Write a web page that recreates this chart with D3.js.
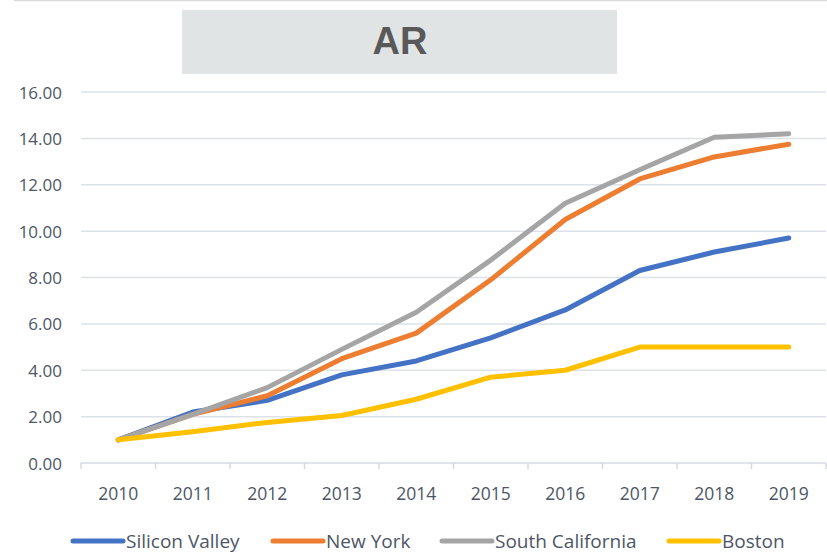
<!DOCTYPE html>
<html>
<head>
<meta charset="utf-8">
<script src="https://cdn.jsdelivr.net/npm/d3@7"></script>
<style>
  body { margin: 0; background: #fff; }
  svg text { font-family: "Open Sans", "Noto Sans", sans-serif; }
</style>
</head>
<body>
<div id="chart"></div>
<script>
// data
const years = ["2010","2011","2012","2013","2014","2015","2016","2017","2018","2019"];
const siliconValley = [1.0, 2.2, 2.7, 3.8, 4.4, 5.4, 6.6, 8.3, 9.1, 9.7];
const newYork = [1.0, 2.1, 2.9, 4.5, 5.6, 7.9, 10.5, 12.25, 13.2, 13.75];
const southCalifornia = [1.0, 2.1, 3.25, 4.9, 6.5, 8.75, 11.2, 12.65, 14.05, 14.2];
const boston = [1.0, 1.35, 1.75, 2.05, 2.75, 3.7, 4.0, 5.0, 5.0, 5.0];
const yTicks = [0, 2, 4, 6, 8, 10, 12, 14, 16];

const series = [
  {name: "Silicon Valley", values: siliconValley, color: "#4472c4"},
  {name: "New York", values: newYork, color: "#ed7d31"},
  {name: "South California", values: southCalifornia, color: "#a5a5a5"},
  {name: "Boston", values: boston, color: "#ffc000"}
];

const W = 827, H = 553;
const margin = {top: 92, right: 1, bottom: 90, left: 81};

const svg = d3.select("#chart").append("svg")
  .attr("width", W)
  .attr("height", H);

// top border line
svg.append("line")
  .attr("x1", 14).attr("x2", W).attr("y1", 0.5).attr("y2", 0.5)
  .attr("stroke", "#d9d9d9").attr("stroke-width", 1.5);

// title box
svg.append("rect")
  .attr("x", 182).attr("y", 10).attr("width", 435).attr("height", 64)
  .attr("fill", "#e1e4e4");
svg.append("text")
  .attr("x", 400).attr("y", 41)
  .attr("text-anchor", "middle")
  .attr("dominant-baseline", "central")
  .style("font-family", "'Liberation Sans Narrow', 'Liberation Sans', sans-serif")
  .style("font-size", "38px")
  .style("font-weight", "bold")
  .attr("fill", "#595959")
  .text("AR");

const x = d3.scaleBand()
  .domain(years)
  .range([margin.left, W - margin.right]);

const y = d3.scaleLinear()
  .domain([0, 16])
  .range([H - margin.bottom, margin.top]);

// gridlines
svg.append("g")
  .selectAll("line")
  .data(yTicks.filter(d => d > 0))
  .join("line")
  .attr("x1", margin.left).attr("x2", W - margin.right)
  .attr("y1", d => y(d)).attr("y2", d => y(d))
  .attr("stroke", "#dde1e8").attr("stroke-width", 1.5);

// Y axis labels
svg.append("g")
  .selectAll("text")
  .data(yTicks)
  .join("text")
  .attr("x", 62)
  .attr("y", d => y(d))
  .attr("text-anchor", "end")
  .attr("dominant-baseline", "central")
  .style("font-size", "17px")
  .attr("fill", "#4d5666")
  .text(d => d.toFixed(2));

// X axis
const xAxis = svg.append("g")
  .attr("transform", `translate(0, ${y(0)})`);
xAxis.append("line")
  .attr("x1", margin.left).attr("x2", W - margin.right)
  .attr("stroke", "#d6dae0").attr("stroke-width", 1.5);
xAxis.selectAll(".tk")
  .data(years.concat(["end"]))
  .join("line")
  .attr("class", "tk")
  .attr("x1", (d, i) => margin.left + i * x.step())
  .attr("x2", (d, i) => margin.left + i * x.step())
  .attr("y1", 0).attr("y2", 6)
  .attr("stroke", "#d6dae0").attr("stroke-width", 1.5);
xAxis.selectAll("text")
  .data(years)
  .join("text")
  .attr("x", d => x(d) + x.bandwidth() / 2)
  .attr("y", 30)
  .attr("text-anchor", "middle")
  .attr("dominant-baseline", "central")
  .style("font-size", "17.5px")
  .attr("fill", "#4d5666")
  .text(d => d);

// lines
const line = d3.line()
  .x((d, i) => x(years[i]) + x.bandwidth() / 2)
  .y(d => y(d));

svg.append("g")
  .selectAll("path")
  .data(series)
  .join("path")
  .attr("d", d => line(d.values))
  .attr("fill", "none")
  .attr("stroke", d => d.color)
  .attr("stroke-width", 5)
  .attr("stroke-linecap", "round")
  .attr("stroke-linejoin", "round");

// legend
const legendX = [73, 273, 442, 669];
const legend = svg.append("g")
  .selectAll("g")
  .data(series)
  .join("g")
  .attr("transform", (d, i) => `translate(${legendX[i]}, 541)`);
legend.append("line")
  .attr("x1", 0).attr("x2", 50)
  .attr("stroke", d => d.color)
  .attr("stroke-width", 5)
  .attr("stroke-linecap", "round");
legend.append("text")
  .attr("x", 53)
  .attr("dominant-baseline", "central")
  .style("font-family", "'Liberation Sans Narrow', 'Open Sans', sans-serif")
  .style("font-size", "19px")
  .attr("fill", "#4d5666")
  .text(d => d.name);
</script>
</body>
</html>
